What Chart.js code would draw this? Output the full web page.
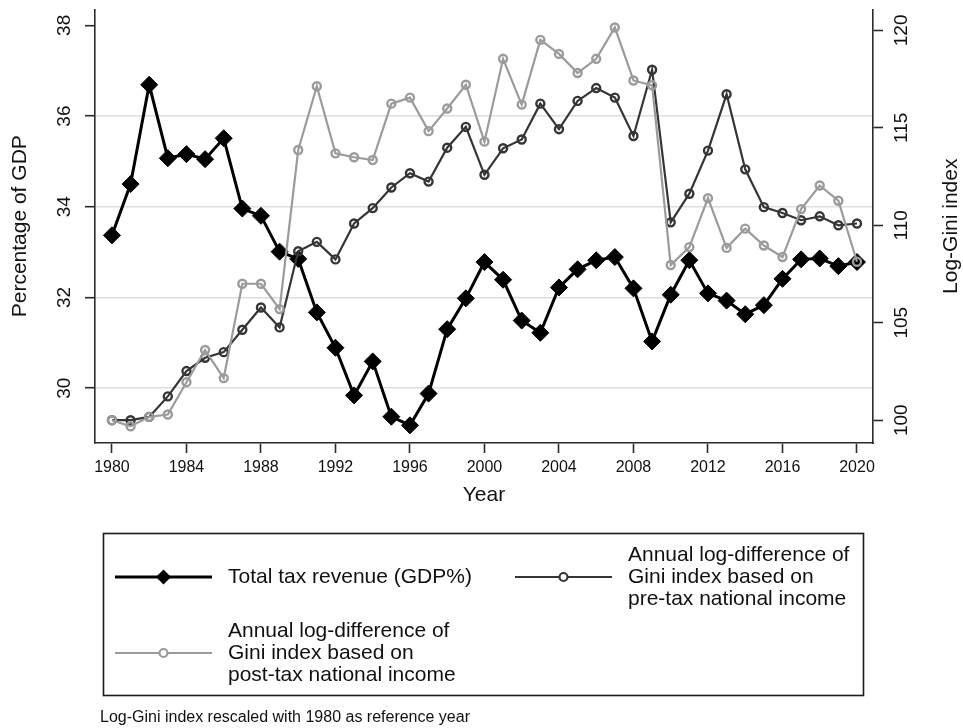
<!DOCTYPE html>
<html>
<head>
<meta charset="utf-8">
<script src="https://cdn.jsdelivr.net/npm/chart.js@4.4.1/dist/chart.umd.min.js"></script>
<style>
  html, body { margin: 0; padding: 0; background: #ffffff; }
  canvas { display: block; }
</style>
</head>
<body>
<canvas id="chart" width="963" height="728"></canvas>
<script>
// ---- data -------------------------------------------------------------
const years = [1980, 1981, 1982, 1983, 1984, 1985, 1986, 1987, 1988, 1989,
               1990, 1991, 1992, 1993, 1994, 1995, 1996, 1997, 1998, 1999,
               2000, 2001, 2002, 2003, 2004, 2005, 2006, 2007, 2008, 2009,
               2010, 2011, 2012, 2013, 2014, 2015, 2016, 2017, 2018, 2019, 2020];

// Total tax revenue, % of GDP (left axis)
const taxRevenue = [33.37, 34.50, 36.69, 35.07, 35.16, 35.05, 35.51, 33.96, 33.80, 33.01,
                    32.85, 31.67, 30.89, 29.84, 30.59, 29.37, 29.18, 29.88, 31.30, 31.98,
                    32.78, 32.39, 31.49, 31.22, 32.22, 32.62, 32.82, 32.89, 32.20, 31.03,
                    32.06, 32.82, 32.09, 31.93, 31.63, 31.83, 32.41, 32.84, 32.86, 32.69, 32.78];

// Log-Gini index, pre-tax national income (right axis, 1980 = 100)
const giniPreTax = [100.00, 100.00, 100.17, 101.22, 102.52, 103.20, 103.49, 104.64, 105.78, 104.76,
                    108.67, 109.15, 108.25, 110.09, 110.88, 111.94, 112.67, 112.24, 113.98, 115.05,
                    112.59, 113.95, 114.40, 116.24, 114.93, 116.38, 117.04, 116.55, 114.58, 117.98,
                    110.15, 111.62, 113.83, 116.72, 112.87, 110.93, 110.63, 110.26, 110.46, 110.00, 110.09];

// Log-Gini index, post-tax national income (right axis, 1980 = 100)
const giniPostTax = [100.00, 99.69, 100.17, 100.29, 101.95, 103.60, 102.16, 107.00, 107.00, 105.70,
                     113.86, 117.13, 113.69, 113.49, 113.35, 116.24, 116.55, 114.83, 115.99, 117.21,
                     114.29, 118.54, 116.19, 119.51, 118.79, 117.81, 118.54, 120.15, 117.43, 117.18,
                     107.96, 108.88, 111.39, 108.84, 109.83, 108.96, 108.37, 110.83, 112.04, 111.26, 108.13];

const yearTicks = [1980, 1984, 1988, 1992, 1996, 2000, 2004, 2008, 2012, 2016, 2020];
const gdpTicks = [30, 32, 34, 36, 38];
const giniTicks = [100, 105, 110, 115, 120];

const seriesNames = [
  ['Total tax revenue (GDP%)'],
  ['Annual log-difference of', 'Gini index based on', 'pre-tax national income'],
  ['Annual log-difference of', 'Gini index based on', 'post-tax national income']
];
const axisTitles = { x: 'Year', left: 'Percentage of GDP', right: 'Log-Gini index' };
const footnote = 'Log-Gini index rescaled with 1980 as reference year';

// ---- styling ----------------------------------------------------------
const FONT = '"Liberation Sans", Arial, Helvetica, sans-serif';
const AXIS_COLOR = '#2b2b2b';
const GRID_COLOR = '#dedede';
const TEXT_COLOR = '#111111';
const TAX_COLOR = '#000000';
const PRE_COLOR = '#353535';
const POST_COLOR = '#9b9b9b';

const toPoints = (vals) => years.map((yr, i) => ({ x: yr, y: vals[i] }));
const fixTicks = (list) => (scale) => { scale.ticks = list.map(v => ({ value: v })); };

// Vertical-axis tick labels, turned to read bottom-to-top, placed by the scales
const rotatedTickLabels = {
  id: 'rotatedTickLabels',
  afterDraw(chart) {
    const ctx = chart.ctx;
    ctx.save();
    ctx.fillStyle = TEXT_COLOR;
    ctx.font = '19px ' + FONT;
    ctx.textAlign = 'center';
    ctx.textBaseline = 'middle';
    const sides = [
      { scale: chart.scales.y, cx: chart.scales.y.right - 31 },
      { scale: chart.scales.y1, cx: chart.scales.y1.left + 28 }
    ];
    sides.forEach(({ scale, cx }) => {
      scale.ticks.forEach((t) => {
        const py = scale.getPixelForValue(t.value);
        ctx.save();
        ctx.translate(cx, py);
        ctx.rotate(-Math.PI / 2);
        ctx.fillText(String(t.value), 0, 1);
        ctx.restore();
      });
    });
    ctx.restore();
  }
};

// Axis titles drawn reading bottom-to-top on both sides
const titlesPlugin = {
  id: 'axisTitlesPlugin',
  afterDraw(chart) {
    const { ctx, chartArea } = chart;
    const midY = (chartArea.top + chartArea.bottom) / 2;
    ctx.save();
    ctx.fillStyle = TEXT_COLOR;
    ctx.font = '21px ' + FONT;
    ctx.textAlign = 'center';
    ctx.textBaseline = 'middle';
    ctx.fillText(axisTitles.x, (chartArea.left + chartArea.right) / 2, 495);
    ctx.save();
    ctx.translate(20, midY);
    ctx.rotate(-Math.PI / 2);
    ctx.fillText(axisTitles.left, 0, 0);
    ctx.restore();
    ctx.save();
    ctx.translate(951, midY);
    ctx.rotate(-Math.PI / 2);
    ctx.fillText(axisTitles.right, 0, 0);
    ctx.restore();
    ctx.restore();
  }
};

// Boxed legend with multi-line entries, plus the note underneath
const legendPlugin = {
  id: 'boxLegend',
  afterDraw(chart) {
    const ctx = chart.ctx;
    ctx.save();
    ctx.strokeStyle = '#1a1a1a';
    ctx.lineWidth = 1.6;
    ctx.strokeRect(103.5, 533.5, 760, 162);

    const slots = [
      { x: 115, y: 577, tx: 228 },
      { x: 515, y: 577, tx: 628 },
      { x: 115, y: 653, tx: 228 }
    ];
    chart.data.datasets.forEach((ds, i) => {
      const s = slots[i];
      ctx.strokeStyle = ds.borderColor;
      ctx.lineWidth = ds.borderWidth;
      ctx.beginPath();
      ctx.moveTo(s.x, s.y);
      ctx.lineTo(s.x + 97, s.y);
      ctx.stroke();
      const mx = s.x + 48.5;
      if (ds.pointStyle === 'rectRot') {
        const r = 7.5;
        ctx.fillStyle = ds.pointBackgroundColor;
        ctx.beginPath();
        ctx.moveTo(mx, s.y - r);
        ctx.lineTo(mx + r, s.y);
        ctx.lineTo(mx, s.y + r);
        ctx.lineTo(mx - r, s.y);
        ctx.closePath();
        ctx.fill();
      } else {
        ctx.lineWidth = 2.2;
        ctx.fillStyle = '#ffffff';
        ctx.beginPath();
        ctx.arc(mx, s.y, 4, 0, Math.PI * 2);
        ctx.fill();
        ctx.stroke();
      }
      ctx.fillStyle = TEXT_COLOR;
      ctx.font = '21px ' + FONT;
      ctx.textAlign = 'left';
      ctx.textBaseline = 'middle';
      const lines = seriesNames[i];
      lines.forEach((t, k) => {
        ctx.fillText(t, s.tx, s.y + (k - (lines.length - 1) / 2) * 22);
      });
    });

    ctx.fillStyle = TEXT_COLOR;
    ctx.font = '16px ' + FONT;
    ctx.textAlign = 'left';
    ctx.textBaseline = 'middle';
    ctx.fillText(footnote, 100, 718);
    ctx.restore();
  }
};

new Chart(document.getElementById('chart'), {
  type: 'line',
  data: {
    datasets: [
      {
        label: seriesNames[0].join(' '),
        data: toPoints(taxRevenue),
        yAxisID: 'y',
        borderColor: TAX_COLOR,
        borderWidth: 3,
        pointStyle: 'rectRot',
        pointRadius: 8.5,
        pointBorderWidth: 1,
        pointBackgroundColor: TAX_COLOR,
        pointBorderColor: TAX_COLOR,
        tension: 0,
        order: 3
      },
      {
        label: seriesNames[1].join(' '),
        data: toPoints(giniPreTax),
        yAxisID: 'y1',
        borderColor: PRE_COLOR,
        borderWidth: 2.2,
        pointStyle: 'circle',
        pointRadius: 4,
        pointBorderWidth: 2.4,
        pointBackgroundColor: 'rgba(255,255,255,0)',
        pointBorderColor: PRE_COLOR,
        tension: 0,
        order: 2
      },
      {
        label: seriesNames[2].join(' '),
        data: toPoints(giniPostTax),
        yAxisID: 'y1',
        borderColor: POST_COLOR,
        borderWidth: 2.2,
        pointStyle: 'circle',
        pointRadius: 4,
        pointBorderWidth: 2.4,
        pointBackgroundColor: 'rgba(255,255,255,0)',
        pointBorderColor: POST_COLOR,
        tension: 0,
        order: 1
      }
    ]
  },
  options: {
    responsive: false,
    animation: false,
    devicePixelRatio: 1,
    layout: { padding: { top: 7, bottom: 245, left: 0, right: 0 } },
    plugins: {
      legend: { display: false },
      tooltip: { enabled: false },
      title: { display: false }
    },
    scales: {
      x: {
        type: 'linear',
        position: 'bottom',
        min: 1979.09,
        max: 2020.86,
        afterBuildTicks: fixTicks(yearTicks),
        afterFit: (s) => { s.height = 40; },
        border: { display: true, color: AXIS_COLOR, width: 1.6 },
        grid: { drawOnChartArea: false, drawTicks: true, tickLength: 10, tickColor: AXIS_COLOR, tickWidth: 1.6 },
        ticks: {
          color: TEXT_COLOR,
          font: { family: FONT, size: 16 },
          padding: 5,
          maxRotation: 0,
          autoSkip: false,
          callback: (v) => String(v)
        }
      },
      y: {
        type: 'linear',
        position: 'left',
        min: 28.79,
        max: 38.35,
        afterBuildTicks: fixTicks(gdpTicks),
        afterFit: (s) => { s.width = 95; s.paddingTop = 0; s.paddingBottom = 0; },
        border: { display: true, color: AXIS_COLOR, width: 1.6 },
        grid: {
          drawOnChartArea: true,
          color: (c) => (c.tick && c.tick.value === 38 ? 'rgba(0,0,0,0)' : GRID_COLOR),
          lineWidth: 1.4,
          drawTicks: true,
          tickLength: 10,
          tickColor: AXIS_COLOR,
          tickWidth: 1.6
        },
        ticks: { display: false }
      },
      y1: {
        type: 'linear',
        position: 'right',
        min: 98.83,
        max: 121.07,
        afterBuildTicks: fixTicks(giniTicks),
        afterFit: (s) => { s.width = 90; s.paddingTop = 0; s.paddingBottom = 0; },
        border: { display: true, color: AXIS_COLOR, width: 1.6 },
        grid: { drawOnChartArea: false, drawTicks: true, tickLength: 10, tickColor: AXIS_COLOR, tickWidth: 1.6 },
        ticks: { display: false }
      }
    }
  },
  plugins: [rotatedTickLabels, titlesPlugin, legendPlugin]
});
</script>
</body>
</html>
